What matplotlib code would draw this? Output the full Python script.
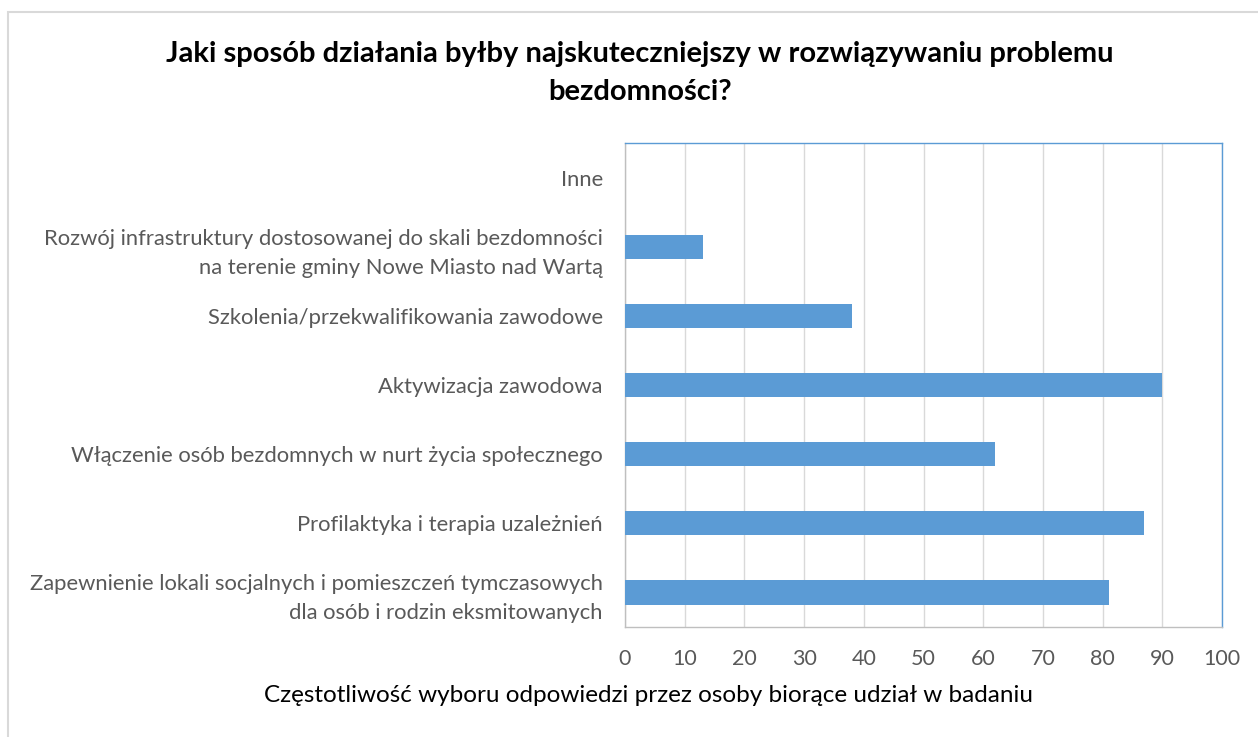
import matplotlib.pyplot as plt
from matplotlib.patches import Rectangle

categories = [
    "Zapewnienie lokali socjalnych i pomieszczeń tymczasowych\ndla osób i rodzin eksmitowanych",
    "Profilaktyka i terapia uzależnień",
    "Włączenie osób bezdomnych w nurt życia społecznego",
    "Aktywizacja zawodowa",
    "Szkolenia/przekwalifikowania zawodowe",
    "Rozwój infrastruktury dostosowanej do skali bezdomności\nna terenie gminy Nowe Miasto nad Wartą",
    "Inne",
]
values = [81, 87, 62, 90, 38, 13, 0]
xticks = list(range(0, 101, 10))

plt.rcParams['font.family'] = ['Lato', 'DejaVu Sans']

fig = plt.figure(figsize=(12.58, 7.37), dpi=100)
fig.patches.append(Rectangle((8 / 1258, -0.1), 1.2, 1 - 12 / 737 + 0.1,
                             transform=fig.transFigure, fill=False,
                             edgecolor='#d9d9d9', linewidth=1.5))

ax = fig.add_axes([625 / 1258, 1 - 627 / 737, 597 / 1258, 484 / 737])
ypos = list(range(len(categories)))
ax.barh(ypos, values, height=0.35, color='#5b9bd5', zorder=3)
ax.set_yticks(ypos)
ax.set_yticklabels(categories, fontsize=15.8, color='#595959', linespacing=1.55)
ax.set_ylim(-0.5, len(categories) - 0.5)
ax.set_xlim(0, 100)
ax.set_xticks(xticks)
ax.set_xticklabels([str(t) for t in xticks], fontsize=15.5, color='#595959')
ax.tick_params(axis='y', length=0, pad=16)
ax.tick_params(axis='x', length=0, pad=16)
ax.grid(axis='x', color='#d9d9d9', linewidth=1, zorder=0)
for s in ax.spines.values():
    s.set_color('#5b9bd5')
    s.set_linewidth(1)
ax.spines['left'].set_color('#bfbfbf')
ax.spines['bottom'].set_color('#bfbfbf')

fig.text(640 / 1258, 1 - 73 / 737,
         "Jaki sposób działania byłby najskuteczniejszy w rozwiązywaniu problemu\nbezdomności?",
         ha='center', va='center', fontsize=21, fontweight='bold', color='black',
         linespacing=1.6)
fig.text(648 / 1258, 1 - 695 / 737,
         "Częstotliwość wyboru odpowiedzi przez osoby biorące udział w badaniu",
         ha='center', va='center', fontsize=17.5, color='black')

fig.savefig("out.png", dpi=100)
